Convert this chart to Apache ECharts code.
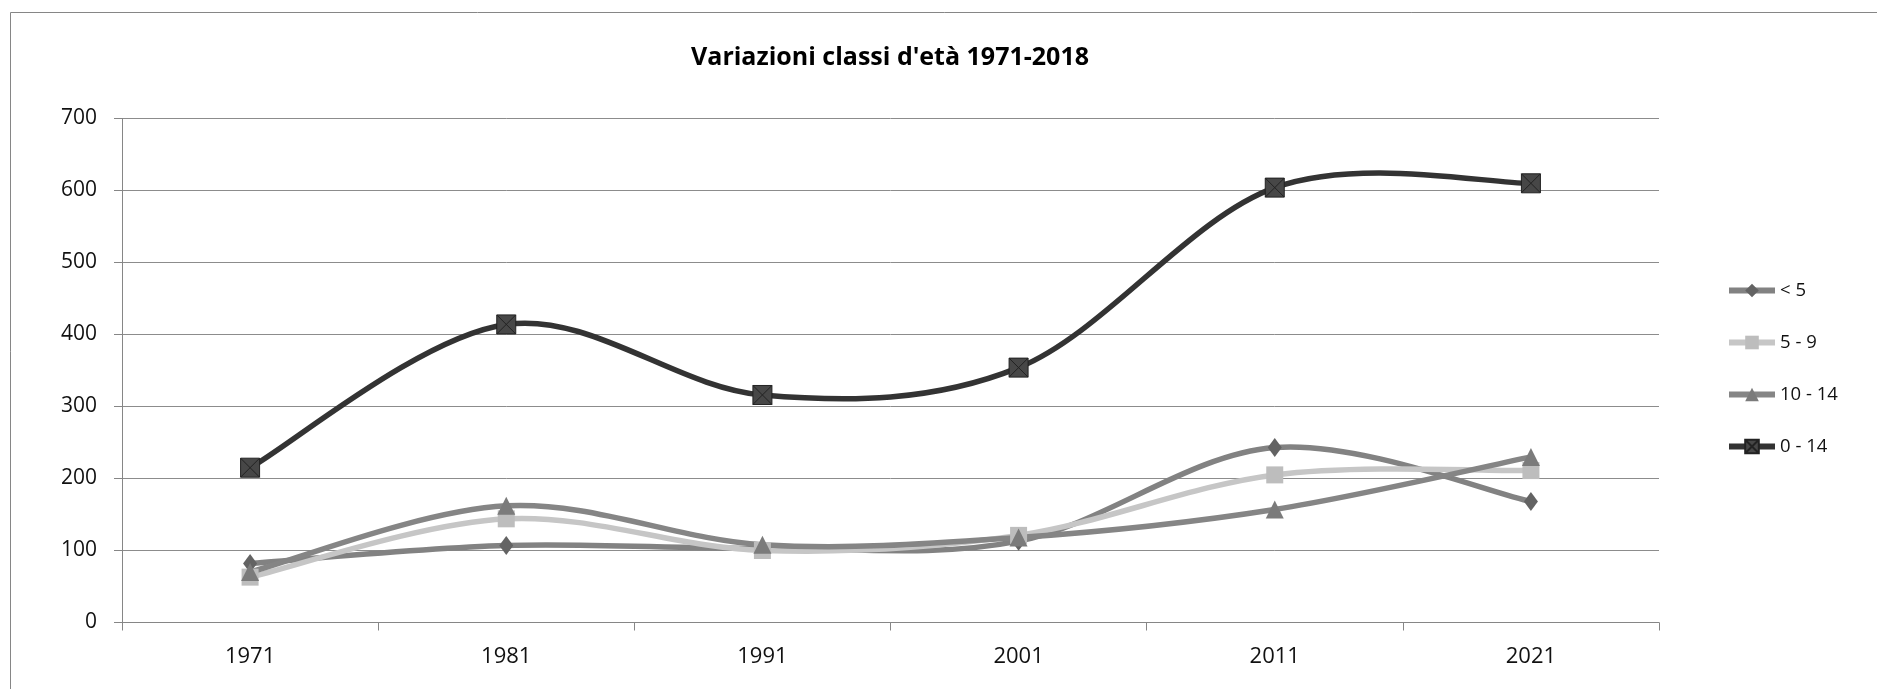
<!DOCTYPE html>
<html>
<head>
<meta charset="utf-8">
<script src="https://cdn.jsdelivr.net/npm/echarts@6/dist/echarts.min.js"></script>
<style>
html,body{margin:0;padding:0;background:#fff;}
#c{width:1877px;height:689px;}
</style>
</head>
<body>
<div id="c"></div>
<script>
const title = "Variazioni classi d'età 1971-2018";
const categories = ['1971','1981','1991','2001','2011','2021'];
const seriesNames = ['< 5','5 - 9','10 - 14','0 - 14'];
const under5 = [82, 107, 103, 113, 243, 168];
const age5to9 = [63, 144, 100, 121, 205, 211];
const age10to14 = [70, 162, 108, 118, 157, 230];
const age0to14 = [215, 414, 316, 354, 604, 610];
const yTicks = {min: 0, max: 700, interval: 100};

const font = 'Open Sans';
const chart = echarts.init(document.getElementById('c'));
const boxX = 'path://M0,0 L10,0 L10,10 L0,10 Z M0,0 L10,10 M10,0 L0,10';

// marker + legend series (no visible line; curve drawn by custom series)
function markers(name, data, lineColor, markColor, symbol, size, extra) {
  return Object.assign({
    name: name, type: 'line', data: data,
    symbol: symbol, symbolSize: size, z: 3,
    lineStyle: {color: lineColor, width: 0},
    itemStyle: {color: markColor},
    emphasis: {disabled: true}
  }, extra || {});
}

// Excel-like smoothed curve (Catmull-Rom style bezier) through the values, via axis scales
function curve(name, values, color, width, z) {
  return {
    name: name, type: 'custom', silent: true, z: z,
    data: values.map((v, i) => [i, v]),
    renderItem: function (params, api) {
      if (params.dataIndex !== 0) return null;
      const p = values.map((v, i) => api.coord([i, v]));
      const children = [];
      for (let i = 0; i < p.length - 1; i++) {
        const p0 = p[i - 1] || p[i], p1 = p[i], p2 = p[i + 1], p3 = p[i + 2] || p[i + 1];
        children.push({
          type: 'bezierCurve',
          shape: {
            x1: p1[0], y1: p1[1], x2: p2[0], y2: p2[1],
            cpx1: p1[0] + (p2[0] - p0[0]) / 6, cpy1: p1[1] + (p2[1] - p0[1]) / 6,
            cpx2: p2[0] - (p3[0] - p1[0]) / 6, cpy2: p2[1] - (p3[1] - p1[1]) / 6
          },
          style: {stroke: color, lineWidth: width, fill: null, lineCap: 'round'}
        });
      }
      return {type: 'group', children: children};
    }
  };
}

chart.setOption({
  animation: false,
  backgroundColor: '#fff',
  title: {
    text: title, left: 885, textAlign: 'center', top: 40,
    textStyle: {fontFamily: font, fontSize: 25, fontWeight: 'bold', color: '#000'}
  },
  graphic: [{
    type: 'rect', shape: {x: 10.5, y: 12.5, width: 1880, height: 700},
    style: {fill: 'none', stroke: '#868686', lineWidth: 1}, z: -1
  }],
  legend: {
    orient: 'vertical', left: 1721, top: 276,
    itemWidth: 46, itemHeight: 17, itemGap: 33,
    lineStyle: {width: 6},
    textStyle: {fontFamily: font, fontSize: 18.5, color: '#111'},
    data: seriesNames
  },
  grid: {left: 122, right: 218, top: 118.5, bottom: 66.5, containLabel: false},
  xAxis: {
    type: 'category', data: categories, boundaryGap: true,
    axisLine: {lineStyle: {color: '#868686', width: 1}},
    axisTick: {show: true, length: 8, lineStyle: {color: '#868686'}},
    axisLabel: {fontFamily: font, fontSize: 22, color: '#111', margin: 23}
  },
  yAxis: {
    type: 'value', min: yTicks.min, max: yTicks.max, interval: yTicks.interval,
    axisLine: {show: true, lineStyle: {color: '#868686', width: 1}},
    axisTick: {show: true, length: 8, lineStyle: {color: '#868686'}},
    splitLine: {lineStyle: {color: '#8c8c8c', width: 1}},
    axisLabel: {fontFamily: font, fontSize: 21, color: '#111', margin: 25}
  },
  series: [
    markers(seriesNames[0], under5, '#828282', '#636363', 'diamond', [14, 19]),
    markers(seriesNames[1], age5to9, '#c6c6c6', '#bdbdbd', 'rect', 17),
    markers(seriesNames[2], age10to14, '#858585', '#7b7b7b', 'triangle', 18),
    markers(seriesNames[3], age0to14, '#333333', '#474747', boxX, 19,
       {itemStyle: {color: '#474747', borderColor: '#222', borderWidth: 1}}),
    curve(seriesNames[0], under5, '#828282', 5.5, 1),
    curve(seriesNames[1], age5to9, '#c6c6c6', 5.5, 1),
    curve(seriesNames[2], age10to14, '#858585', 5.5, 1),
    curve(seriesNames[3], age0to14, '#333333', 5.5, 1)
  ]
});
</script>
</body>
</html>
